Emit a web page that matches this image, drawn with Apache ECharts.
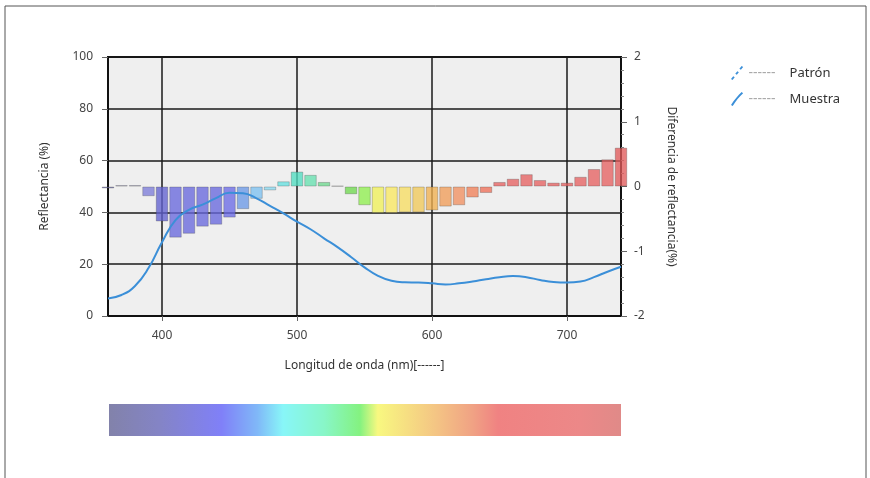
<!DOCTYPE html>
<html><head><meta charset="utf-8">
<script src="https://cdn.jsdelivr.net/npm/echarts@6/dist/echarts.min.js"></script>
<style>html,body{margin:0;padding:0;background:#fff}#c{width:870px;height:478px}</style>
</head><body><div id="c"></div>
<script>
// ---- data ----
const wavelengths = [360,370,380,390,400,410,420,430,440,450,460,470,480,490,500,510,520,530,540,550,560,570,580,590,600,610,620,630,640,650,660,670,680,690,700,710,720,730,740];
const muestra = [6.8,8.1,11.6,18.5,28.5,37,41,43,45.5,47.6,47.4,45.4,42.5,39.6,36.4,33.5,30,26.6,22.8,18.8,15.5,13.6,13,12.9,12.6,12.2,12.6,13.3,14.2,15,15.4,15,13.9,13.1,12.9,13.3,15,17.1,19];
const diferencia = [-0.03,0.02,0.02,-0.15,-0.54,-0.79,-0.73,-0.62,-0.59,-0.48,-0.35,-0.19,-0.06,0.08,0.23,0.18,0.07,0.01,-0.12,-0.29,-0.41,-0.41,-0.40,-0.40,-0.37,-0.31,-0.29,-0.17,-0.10,0.07,0.12,0.19,0.10,0.06,0.06,0.15,0.27,0.42,0.60];
const patron = [];
const xTickLabels = [400,500,600,700];
const leftTicks = [0,20,40,60,80,100];
const rightTicks = [-2,-1,0,1,2];

// ---- styling helpers ----
const spectrum = [
  [360,'#6a6aa8'],[390,'#7c7cd8'],[400,'#6262d0'],[410,'#6868dc'],[450,'#6a6ae6'],[460,'#6c98e6'],[470,'#7cc0f0'],
  [480,'#8ad8f0'],[490,'#66e0e0'],[500,'#50dcc0'],[510,'#66e0b0'],[520,'#70d890'],[530,'#40a850'],
  [540,'#70d850'],[550,'#90ee50'],[560,'#f0f058'],[570,'#f8e860'],[580,'#f6dc62'],[590,'#f0c858'],
  [600,'#f0b050'],[610,'#f09c58'],[620,'#f09060'],[630,'#f08058'],[640,'#ee7058'],[650,'#e66262'],[740,'#e05a5a']
];
function specColor(w){
  let c = spectrum[0][1];
  for (const s of spectrum){ if (w >= s[0]) c = s[1]; }
  return c;
}

const chart = echarts.init(document.getElementById('c'));
const font = 'Noto Sans';
chart.setOption({
  animation:false,
  textStyle:{fontFamily:font},
  grid:{left:108, top:57, width:513, height:259, show:true, backgroundColor:'#efefef', borderColor:'#111', borderWidth:2},
  legend:{
    orient:'vertical', left:726, top:61, itemWidth:13, itemHeight:14, itemGap:12,
    data:[
      {name:'Patrón', icon:'path://M0,14 L1.6,15 L4,12 L2.4,11 Z M4.6,8.4 L6.2,9.4 L8.4,6.6 L6.8,5.6 Z M9,3 L10.6,4 L13,1 L11.4,0 Z'},
      {name:'Muestra', icon:'path://M0,14 L1.8,15 C5,10 9,5 13,1.4 L11.4,0 C7.5,3.6 3.4,8.6 0,14 Z'}
    ],
    formatter: n => '{d|------}{n|' + n + '}',
    textStyle:{rich:{d:{color:'#aaa',fontSize:14,width:41,fontFamily:font},n:{color:'#333',fontSize:13,fontFamily:font}}}
  },
  xAxis:{
    type:'value', min:360, max:740,
    name:'Longitud de onda (nm)[------]', nameLocation:'middle', nameGap:44,
    nameTextStyle:{color:'#333', fontSize:12},
    axisLine:{show:true, lineStyle:{color:'#111', width:2}},
    axisTick:{show:true, length:5, customValues:xTickLabels, lineStyle:{color:'#666'}},
    axisLabel:{color:'#444', fontSize:12, margin:14, customValues:xTickLabels},
    splitLine:{show:true, lineStyle:{color:'#1a1a1a', width:1.5}}
  },
  yAxis:[
    {type:'value', min:0, max:100, interval:20, position:'left',
     name:'Reflectancia (%)', nameLocation:'middle', nameGap:57,
     nameTextStyle:{color:'#333', fontSize:12},
     axisLine:{show:true, lineStyle:{color:'#111', width:2}},
     axisTick:{show:true, length:6, lineStyle:{color:'#666'}},
     axisLabel:{color:'#444', fontSize:12, margin:15},
     splitLine:{show:true, lineStyle:{color:'#1a1a1a', width:1.5}}},
    {type:'value', min:-2, max:2, interval:1, position:'right',
     name:'Diferencia de reflectancia(%)', nameLocation:'middle', nameGap:44, nameRotate:-90,
     nameTextStyle:{color:'#333', fontSize:12},
     axisLine:{show:true, lineStyle:{color:'#111', width:2}},
     axisTick:{show:true, length:6, lineStyle:{color:'#666'}},
     minorTick:{show:true, splitNumber:5, length:3, lineStyle:{color:'#888'}},
     axisLabel:{color:'#444', fontSize:12, margin:13},
     splitLine:{show:false}}
  ],
  graphic:[
    {type:'rect', silent:true, shape:{x:5, y:6, width:861, height:490}, style:{fill:'none', stroke:'#555', lineWidth:1}},
    {type:'rect', silent:true, shape:{x:109, y:404, width:512, height:32},
     style:{fill:new echarts.graphic.LinearGradient(0,0,1,0,[
       {offset:0, color:'#8282aa'},{offset:0.1, color:'#8484c6'},{offset:0.22, color:'#8080f8'},
       {offset:0.29, color:'#80b8f8'},{offset:0.34, color:'#88f6f8'},{offset:0.42, color:'#88f6c8'},
       {offset:0.49, color:'#84f280'},{offset:0.525, color:'#f8f880'},{offset:0.64, color:'#f4c484'},
       {offset:0.71, color:'#f0a284'},{offset:0.76, color:'#f08282'},{offset:0.92, color:'#ec8888'},{offset:1, color:'#e08a88'}
     ])}}
  ],
  series:[
    {name:'Patrón', type:'line', data:patron, showSymbol:false, color:'#3b8fd8', lineStyle:{type:'dashed', width:2}},
    {name:'Diferencia', type:'bar', yAxisIndex:1, barWidth:12.5,
     data: wavelengths.map((w,i)=>[w, diferencia[i]]),
     itemStyle:{
       color: p => specColor(p.value[0]),
       opacity:0.78,
       borderColor:'rgba(60,60,60,0.35)', borderWidth:1
     }},
    {name:'Muestra', type:'line', smooth:true, showSymbol:false, color:'#3b8fd8',
     lineStyle:{width:2, color:'#3b8fd8'},
     data: wavelengths.map((w,i)=>[w, muestra[i]])}
  ]
});
</script></body></html>
